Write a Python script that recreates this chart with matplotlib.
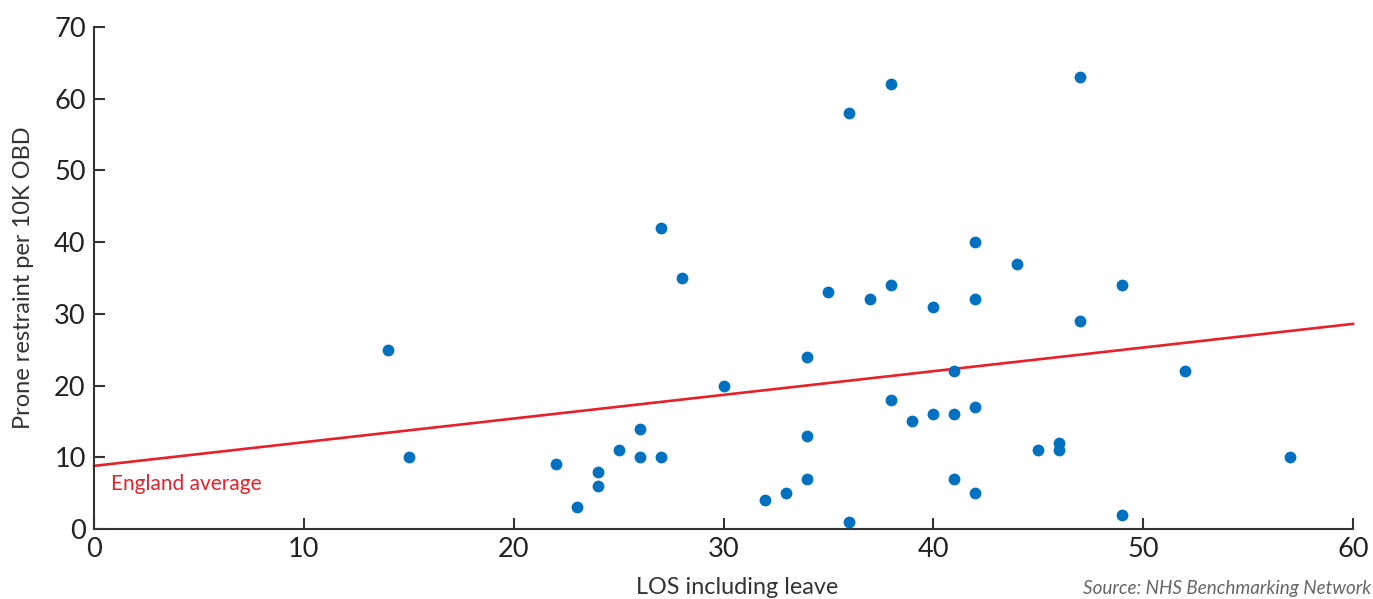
import matplotlib
matplotlib.use("Agg")
import matplotlib.pyplot as plt

# Provider data: length of stay vs prone restraint rate
los = [14, 15, 22, 23, 24, 24, 25, 26, 26, 27, 27, 28, 30, 32, 33, 34, 34, 34,
       35, 36, 36, 37, 38, 38, 38, 39, 40, 40, 41, 41, 41, 42, 42, 42, 42, 44,
       45, 46, 46, 47, 47, 49, 49, 52, 57]
prone = [25, 10, 9, 3, 8, 6, 11, 14, 10, 10, 42, 35, 20, 4, 5, 24, 13, 7,
         33, 58, 1, 32, 62, 34, 18, 15, 31, 16, 22, 16, 7, 40, 32, 17, 5, 37,
         11, 12, 11, 63, 29, 34, 2, 22, 10]

# England average trend line end points
trend_x = [0, 60]
trend_y = [8.8, 28.6]

x_ticks = [0, 10, 20, 30, 40, 50, 60]
y_ticks = [0, 10, 20, 30, 40, 50, 60, 70]

plt.rcParams['font.family'] = ['Lato', 'DejaVu Sans']

fig = plt.figure(figsize=(13.73, 5.99), dpi=100)
ax = fig.add_axes([0.0685, 0.1169, 0.9169, 0.8381])

ax.plot(trend_x, trend_y, color='#E8202A', lw=1.9, zorder=2, clip_on=False)
ax.plot(los, prone, 'o', color='#0070C0', ms=8.5, mec='none', zorder=3)

ax.text(0.8, 6.3, 'England average', color='#E8202A', fontsize=15,
        va='center', ha='left')

ax.set_xlim(0, 60)
ax.set_ylim(0, 70)
ax.set_xticks(x_ticks)
ax.set_yticks(y_ticks)

for s in ['top', 'right']:
    ax.spines[s].set_visible(False)
for s in ['left', 'bottom']:
    ax.spines[s].set_color('#333333')
    ax.spines[s].set_linewidth(1.5)

ax.tick_params(direction='in', length=8, width=1.5, color='#333333',
               labelsize=19.5, labelcolor='#222222', pad=6)

ax.set_xlabel('LOS including leave', fontsize=16.8, color='#333333')
ax.set_ylabel('Prone restraint per 10K OBD', fontsize=17, color='#333333')
ax.xaxis.set_label_coords((737 - 94) / 1259, -0.095)
ax.yaxis.set_label_coords(-0.048, 0.5)

fig.text(0.9985, 0.004, 'Source: NHS Benchmarking Network', fontsize=13.6,
         style='italic', color='#666666', ha='right', va='bottom')

fig.savefig('out.png', dpi=100)
